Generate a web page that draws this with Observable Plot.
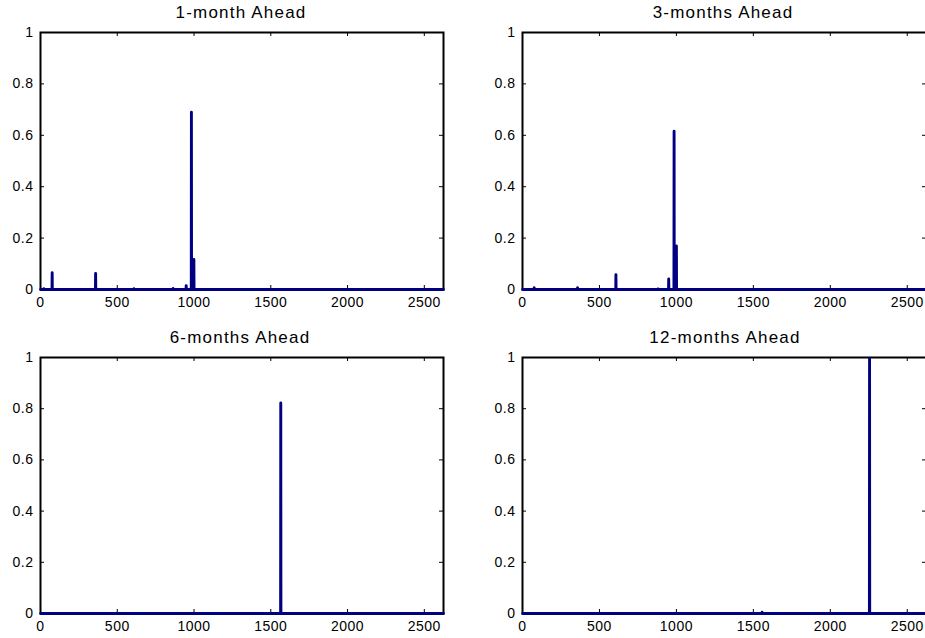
<!DOCTYPE html>
<html><head><meta charset="utf-8">
<script src="https://cdn.jsdelivr.net/npm/d3@7"></script>
<script src="https://cdn.jsdelivr.net/npm/@observablehq/plot@0.6"></script>
<style>
html,body{margin:0;padding:0;background:#fff;overflow:hidden;}
#root{position:relative;width:925px;height:638px;overflow:hidden;font-family:"Liberation Sans",Arial,Helvetica,sans-serif;}
.panel{position:absolute;}
.title{position:absolute;font-size:17px;line-height:17px;letter-spacing:1.2px;color:#000;white-space:nowrap;transform:translateX(-50%);}
.panel text{letter-spacing:0.5px;}
</style></head><body><div id="root"></div>
<script>
// ---- data ----
const titles = ["1-month Ahead", "3-months Ahead", "6-months Ahead", "12-months Ahead"];
const nModels = 2625;
const xTicks = [0, 500, 1000, 1500, 2000, 2500];
const yTicks = [0, 0.2, 0.4, 0.6, 0.8, 1];
const spikeX1 = [22, 76, 359, 609, 864, 949, 983, 999];
const spikeY1 = [0.003, 0.065, 0.062, 0.003, 0.004, 0.015, 0.69, 0.117];
const spikeX3 = [76, 358, 607, 881, 950, 985, 1000];
const spikeY3 = [0.007, 0.007, 0.058, 0.002, 0.041, 0.616, 0.169];
const spikeX6 = [1565];
const spikeY6 = [0.822];
const spikeX12 = [1557, 2255];
const spikeY12 = [0.005, 0.995];

const seriesX = [spikeX1, spikeX3, spikeX6, spikeX12];
const seriesY = [spikeY1, spikeY3, spikeY6, spikeY12];

// panel layout
const layout = [
  {left: 0,   top: 0,   width: 462, height: 318, mL: 40, mR: 19, mT: 32, mB: 29, tx: 241, ty: 4},
  {left: 462, top: 0,   width: 464, height: 318, mL: 60, mR: 0,  mT: 32, mB: 29, tx: 723, ty: 4},
  {left: 0,   top: 318, width: 462, height: 320, mL: 40, mR: 19, mT: 39, mB: 25, tx: 240, ty: 329},
  {left: 462, top: 318, width: 464, height: 320, mL: 60, mR: 0,  mT: 39, mB: 25, tx: 725, ty: 329}
];

const navy = "#000080";
const tickLen = 4;
const root = document.getElementById("root");

function buildSeries(xs, ys) {
  const pts = [{x: 1, y: 0}];
  xs.forEach((x, i) => {
    pts.push({x: x - 1, y: 0});
    pts.push({x: x, y: ys[i]});
    pts.push({x: x + 1, y: 0});
  });
  pts.push({x: nModels, y: 0});
  return pts;
}

layout.forEach((L, k) => {
  const data = buildSeries(seriesX[k], seriesY[k]);
  const innerW = L.width - L.mL - L.mR;
  const innerH = L.height - L.mT - L.mB;
  const chart = Plot.plot({
    width: L.width,
    height: L.height,
    marginLeft: L.mL,
    marginRight: L.mR,
    marginTop: L.mT,
    marginBottom: L.mB,
    style: {fontFamily: '"Liberation Sans", Arial, Helvetica, sans-serif', fontSize: "14px", color: "#000", background: "transparent", overflow: "visible"},
    x: {domain: [0, nModels], label: null},
    y: {domain: [0, 1], label: null},
    marks: [
      Plot.axisX(xTicks, {anchor: "bottom", tickSize: 0, tickPadding: 8, fontSize: 14, tickFormat: d => String(d), label: null}),
      Plot.axisY(yTicks, {anchor: "left", tickSize: 0, tickPadding: 7, fontSize: 14, tickFormat: d => String(d), label: null}),
      // inward tick marks on all four sides
      Plot.tickX(xTicks, {x: d => d, stroke: "#000", strokeWidth: 1, insetTop: innerH - tickLen}),
      Plot.tickX(xTicks, {x: d => d, stroke: "#000", strokeWidth: 1, insetBottom: innerH - tickLen}),
      Plot.tickY(yTicks, {y: d => d, stroke: "#000", strokeWidth: 1, insetRight: innerW - tickLen}),
      Plot.tickY(yTicks, {y: d => d, stroke: "#000", strokeWidth: 1, insetLeft: innerW - tickLen}),
      Plot.frame({stroke: "#000", strokeWidth: 2}),
      Plot.line(data, {x: "x", y: "y", stroke: navy, strokeWidth: 2.9})
    ]
  });
  chart.classList.add("panel");
  chart.style.left = L.left + "px";
  chart.style.top = L.top + "px";
  root.appendChild(chart);

  const t = document.createElement("div");
  t.className = "title";
  t.textContent = titles[k];
  t.style.left = L.tx + "px";
  t.style.top = L.ty + "px";
  root.appendChild(t);
});
</script>
</body></html>
